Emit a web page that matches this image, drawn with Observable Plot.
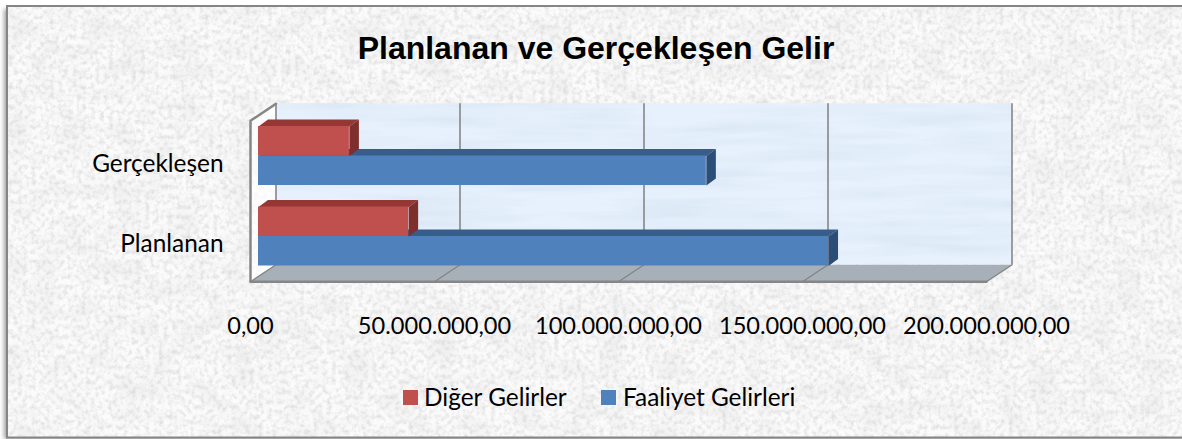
<!DOCTYPE html>
<html lang="tr">
<head>
<meta charset="utf-8">
<script src="https://cdn.jsdelivr.net/npm/d3@7"></script>
<script src="https://cdn.jsdelivr.net/npm/@observablehq/plot@0.6"></script>
<style>
html,body{margin:0;padding:0;background:#fff;width:1182px;height:439px;overflow:hidden}
#stage{position:relative;width:1182px;height:439px;overflow:hidden}
#paper{position:absolute;left:0;top:0}
#chart{position:absolute;left:0;top:0}
#chart svg{background:transparent;overflow:visible}
#title{position:absolute;left:0;width:1192px;top:30px;text-align:center;font:bold 32px "Liberation Sans",Arial,sans-serif;color:#000;line-height:36px;white-space:nowrap}
.lg{position:absolute;top:382px;font:24.4px Lato,sans-serif;color:#000;line-height:30px;white-space:nowrap}
.k{position:absolute;top:390px;width:15px;height:15px}
</style>
</head>
<body>
<div id="stage">
<svg id="paper" width="1182" height="439">
  <defs>
    <filter id="grain" x="0" y="0" width="1" height="1">
      <feTurbulence type="fractalNoise" baseFrequency="0.22 0.2" numOctaves="4" seed="11"/>
      <feColorMatrix type="matrix" values="0 0 0 0 0.5  0 0 0 0 0.5  0 0 0 0 0.5  0.9 0 0 0 -0.37"/>
    </filter>
    <filter id="blotch" x="0" y="0" width="1" height="1">
      <feTurbulence type="fractalNoise" baseFrequency="0.035 0.05" numOctaves="2" seed="3"/>
      <feColorMatrix type="matrix" values="0 0 0 0 0.6  0 0 0 0 0.6  0 0 0 0 0.6  0.5 0 0 0 -0.2"/>
    </filter>
    <filter id="water" x="0" y="0" width="1" height="1">
      <feTurbulence type="fractalNoise" baseFrequency="0.008 0.09" numOctaves="3" seed="4" result="n"/>
      <feColorMatrix in="n" type="matrix" values="0 0 0 0 0.72  0 0 0 0 0.80  0 0 0 0 0.92  2.2 0 0 0 -0.85" result="w"/>
      <feComposite in="w" in2="SourceAlpha" operator="in" result="c"/>
      <feMerge><feMergeNode in="SourceGraphic"/><feMergeNode in="c"/></feMerge>
    </filter>
    <filter id="soft" x="-2%" y="-2%" width="104%" height="104%"><feGaussianBlur stdDeviation="2"/></filter>
  </defs>
  <rect x="0" y="0" width="1182" height="439" fill="#fff"/>
  <rect x="4" y="9" width="1180" height="430" fill="#a0a0a0" filter="url(#soft)"/>
  <rect x="7" y="6" width="1180" height="431" fill="#fbfbfb"/>
  <rect x="7" y="6" width="1180" height="431" filter="url(#grain)"/>
  <rect x="7" y="6" width="1180" height="431" filter="url(#blotch)"/>
  <rect x="7" y="6" width="1180" height="431.5" fill="none" stroke="#858585" stroke-width="2"/>
</svg>
<div id="chart"></div>
<div id="title">Planlanan ve Gerçekleşen Gelir</div>
<span class="k" style="left:403px;background:#c0504d"></span>
<span class="lg" style="left:424px">Diğer Gelirler</span>
<span class="k" style="left:601px;background:#4f81bd"></span>
<span class="lg" style="left:623px">Faaliyet Gelirleri</span>
</div>
<script>
// Chart values
const categories = ["Planlanan", "Gerçekleşen"];
const faaliyetGelirleri = [154900000, 121700000];
const digerGelirler = [40800000, 24700000];
const axisTicks = [0, 50000000, 100000000, 150000000, 200000000];

const W = 736, S = 80.5;                       // plot width, one category in px
const ux = px => px * 200000000 / W;           // px → x units
const uy = px => px / S;                       // px → y units
const nf = d3.formatLocale({decimal: ",", thousands: ".", grouping: [3], currency: ["", ""]}).format(",.2f");

// A filled parallelogram/polygon as a closed Plot.line
const poly = (pts, fill, extra = {}) =>
  Plot.line([...pts, pts[0]].map(([x, y]) => ({x, y})), {x: "x", y: "y", fill, stroke: "none", ...extra});

const yTop = 1.5, yBot = -0.5, xEnd = 200000000;
const backX = ux(17.5), backY = uy(12), frontX = -ux(8), frontY = -uy(5);
const depthX = ux(9.5), depthY = uy(7);
const barH = uy(29.5);

// 3D box: front, top and side faces
function box(value, y0, colors) {
  const y1 = y0 + barH;
  return [
    poly([[0, y1], [value, y1], [value + depthX, y1 + depthY], [depthX, y1 + depthY]], colors.top),
    poly([[value, y0], [value + depthX, y0 + depthY], [value + depthX, y1 + depthY], [value, y1]], colors.side),
    Plot.rect([{x1: 0, x2: value, y1: y0, y2: y1}], {x1: "x1", x2: "x2", y1: "y1", y2: "y2", fill: colors.front})
  ];
}
const BLUE = {front: "#4f81bd", top: "#385d8a", side: "#2c4d75"};
const RED = {front: "#c0504d", top: "#953735", side: "#7e2f2d"};
const GRID = "#868686";

const marks = [
  // left wall
  poly([[frontX, yBot + frontY], [backX, yBot + backY], [backX, yTop + backY], [frontX, yTop + frontY]], "#ffffff", {fillOpacity: 0.7}),
  // back wall
  Plot.rect([{x1: backX, x2: xEnd + backX, y1: yBot + backY, y2: yTop + backY}],
    {x1: "x1", x2: "x2", y1: "y1", y2: "y2", fill: "#e6f1fd", imageFilter: "url(#water)"}),
  // floor
  poly([[frontX, yBot + frontY], [xEnd + frontX, yBot + frontY], [xEnd + backX, yBot + backY], [backX, yBot + backY]], "#a7b0b9"),
  // gridlines on the back wall
  Plot.ruleX(axisTicks, {x: d => d + backX, y1: yBot + backY, y2: yTop + backY, stroke: GRID, strokeWidth: 1.6}),
  // floor gridlines
  ...axisTicks.map(t => Plot.line([{x: t + frontX, y: yBot + frontY}, {x: t + backX, y: yBot + backY}],
    {x: "x", y: "y", stroke: GRID, strokeWidth: 1.5})),
  // floor front edge and left wall outline
  Plot.line([{x: xEnd + frontX, y: yBot + frontY}, {x: frontX, y: yBot + frontY}, {x: frontX, y: yTop + frontY}, {x: backX, y: yTop + backY}],
    {x: "x", y: "y", stroke: GRID, strokeWidth: 2.5}),
  // bars, far row first
  ...box(faaliyetGelirleri[1], 1 - barH, BLUE),
  ...box(digerGelirler[1], 1, RED),
  ...box(faaliyetGelirleri[0], 0 - barH, BLUE),
  ...box(digerGelirler[0], 0, RED),
  // axes
  Plot.axisX(axisTicks, {anchor: "bottom", tickSize: 0, tickPadding: 40, tickFormat: d => d === 0 ? "0,00" : nf(d),
    dx: -8, fontSize: 23.6, fontFamily: "Lato, sans-serif", fill: "#000", label: null}),
  Plot.axisY([0, 1], {anchor: "left", tickSize: 0, tickPadding: 35, tickFormat: d => categories[d],
    dy: 8, fontSize: 24.4, fontFamily: "Lato, sans-serif", fill: "#000", label: null})
];

const chart = Plot.plot({
  width: 1182,
  height: 439,
  marginLeft: 258,
  marginRight: 188,
  marginTop: 115.25,
  marginBottom: 162.75,
  style: {background: "transparent", overflow: "visible"},
  x: {domain: [0, xEnd], axis: null},
  y: {domain: [yBot, yTop], axis: null},
  marks
});
document.getElementById("chart").append(chart);
</script>
</body>
</html>
